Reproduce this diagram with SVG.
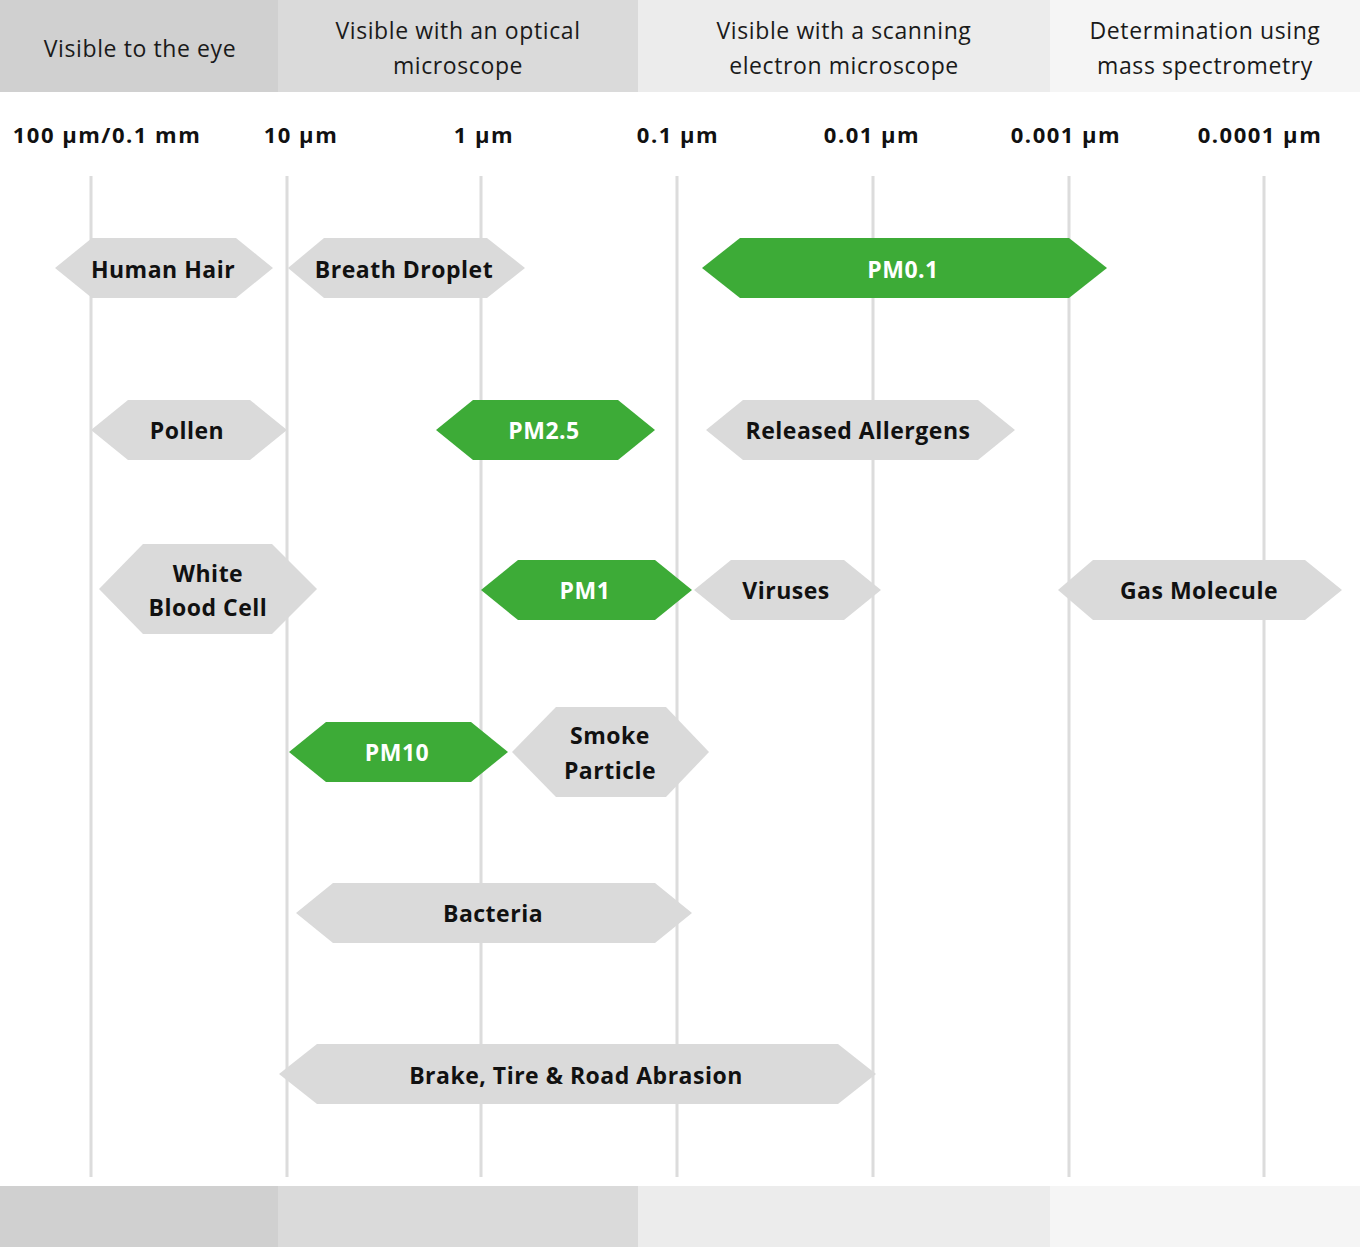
<svg xmlns="http://www.w3.org/2000/svg" width="1360" height="1247" viewBox="0 0 1360 1247">
<style>
.hdr{font-family:"Open Sans","Liberation Sans",sans-serif;font-size:23px;fill:#1a1a1a;text-anchor:middle;letter-spacing:0.6px}
.ax{font-family:"Open Sans","Liberation Sans",sans-serif;font-size:22px;font-weight:700;fill:#111;text-anchor:middle;letter-spacing:1.5px}
.grid{stroke:#dcdcdc;stroke-width:3}
.g{fill:#dadada}
.p{fill:#3dab37}
.t{font-family:"Open Sans","Liberation Sans",sans-serif;font-size:23px;font-weight:700;fill:#111;text-anchor:middle;letter-spacing:0.5px}
.tw{font-family:"Open Sans","Liberation Sans",sans-serif;font-size:23px;font-weight:700;fill:#fff;text-anchor:middle;letter-spacing:0.5px}
</style>
<rect width="1360" height="1247" fill="#fff"/>
<g id="header">
<rect x="0" y="0" width="278" height="92" fill="#d0d0d0"/>
<rect x="278" y="0" width="360" height="92" fill="#dadada"/>
<rect x="638" y="0" width="412" height="92" fill="#ececec"/>
<rect x="1050" y="0" width="310" height="92" fill="#f5f5f5"/>
<text class="hdr" x="140" y="57">Visible to the eye</text>
<text class="hdr" x="458" y="39">Visible with an optical</text>
<text class="hdr" x="458" y="74">microscope</text>
<text class="hdr" x="844" y="39">Visible with a scanning</text>
<text class="hdr" x="844" y="74">electron microscope</text>
<text class="hdr" x="1205" y="39">Determination using</text>
<text class="hdr" x="1205" y="74">mass spectrometry</text>
</g>
<g id="footer">
<rect x="0" y="1186" width="278" height="61" fill="#d0d0d0"/>
<rect x="278" y="1186" width="360" height="61" fill="#dadada"/>
<rect x="638" y="1186" width="412" height="61" fill="#ececec"/>
<rect x="1050" y="1186" width="310" height="61" fill="#f5f5f5"/>
</g>
<g id="axis-labels">
<text class="ax" x="107" y="143">100 µm/0.1 mm</text>
<text class="ax" x="301" y="143">10 µm</text>
<text class="ax" x="484" y="143">1 µm</text>
<text class="ax" x="678" y="143">0.1 µm</text>
<text class="ax" x="872" y="143">0.01 µm</text>
<text class="ax" x="1066" y="143">0.001 µm</text>
<text class="ax" x="1260" y="143">0.0001 µm</text>
</g>
<g id="connectors">
<line class="grid" x1="91" y1="176" x2="91" y2="1177"/>
<line class="grid" x1="287" y1="176" x2="287" y2="1177"/>
<line class="grid" x1="481" y1="176" x2="481" y2="1177"/>
<line class="grid" x1="677" y1="176" x2="677" y2="1177"/>
<line class="grid" x1="873" y1="176" x2="873" y2="1177"/>
<line class="grid" x1="1069" y1="176" x2="1069" y2="1177"/>
<line class="grid" x1="1264" y1="176" x2="1264" y2="1177"/>
</g>
<g id="human-hair"><polygon class="g" points="55,268 92,238 236,238 273,268 236,298 92,298"/><text class="t" x="163" y="278">Human Hair</text></g>
<g id="breath-droplet"><polygon class="g" points="288,268 324,238 487,238 525,268 487,298 324,298"/><text class="t" x="404" y="278">Breath Droplet</text></g>
<g id="pm01"><polygon class="p" points="702,268 740,238 1069,238 1107,268 1069,298 740,298"/><text class="tw" x="903" y="278">PM0.1</text></g>
<g id="pollen"><polygon class="g" points="91,430 128,400 250,400 287,430 250,460 128,460"/><text class="t" x="187" y="439">Pollen</text></g>
<g id="pm25"><polygon class="p" points="436,430 473,400 618,400 655,430 618,460 473,460"/><text class="tw" x="544" y="439">PM2.5</text></g>
<g id="released-allergens"><polygon class="g" points="706,430 743,400 978,400 1015,430 978,460 743,460"/><text class="t" x="858" y="439">Released Allergens</text></g>
<g id="white-blood-cell"><polygon class="g" points="99,589 143,544 272,544 317,589 272,634 143,634"/><text class="t" x="208" y="582">White</text><text class="t" x="208" y="616">Blood Cell</text></g>
<g id="pm1"><polygon class="p" points="481,590 518,560 655,560 692,590 655,620 518,620"/><text class="tw" x="585" y="599">PM1</text></g>
<g id="viruses"><polygon class="g" points="694,590 731,560 844,560 881,590 844,620 731,620"/><text class="t" x="786" y="599">Viruses</text></g>
<g id="gas-molecule"><polygon class="g" points="1058,590 1093,560 1305,560 1342,590 1305,620 1093,620"/><text class="t" x="1199" y="599">Gas Molecule</text></g>
<g id="pm10"><polygon class="p" points="289,752 326,722 471,722 508,752 471,782 326,782"/><text class="tw" x="397" y="761">PM10</text></g>
<g id="smoke-particle"><polygon class="g" points="512,752 556,707 666,707 709,752 666,797 556,797"/><text class="t" x="610" y="744">Smoke</text><text class="t" x="610" y="779">Particle</text></g>
<g id="bacteria"><polygon class="g" points="296,913 333,883 655,883 692,913 655,943 333,943"/><text class="t" x="493" y="922">Bacteria</text></g>
<g id="brake-tire-road"><polygon class="g" points="279,1074 317,1044 838,1044 876,1074 838,1104 317,1104"/><text class="t" x="576" y="1084">Brake, Tire &amp; Road Abrasion</text></g>
</svg>
